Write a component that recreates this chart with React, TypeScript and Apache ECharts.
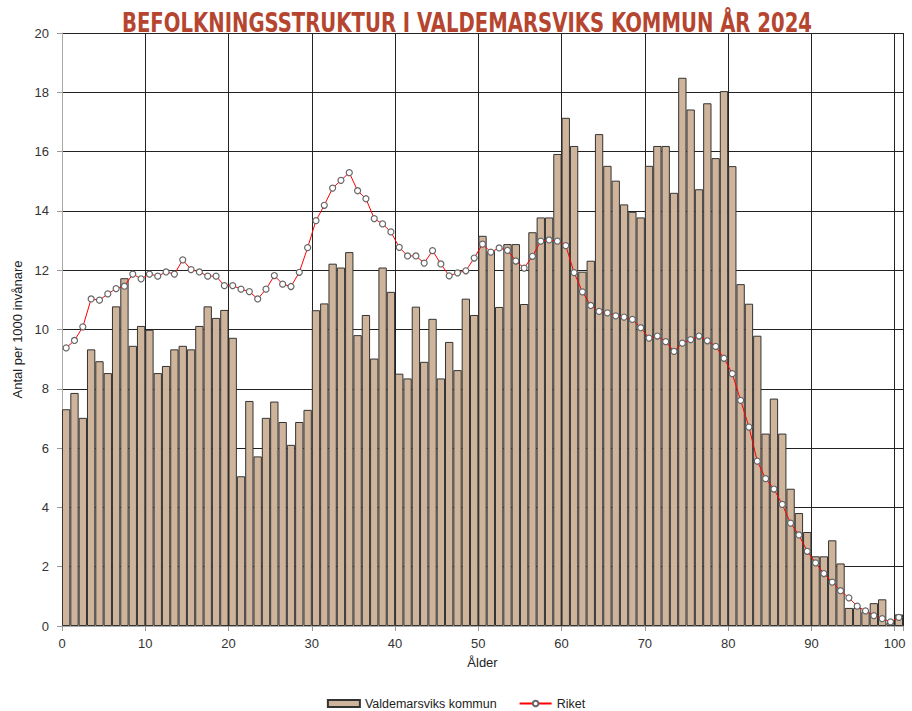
import React, { useEffect, useRef } from "react";
import * as echarts from "echarts";

const TITLE = "BEFOLKNINGSSTRUKTUR I VALDEMARSVIKS KOMMUN ÅR 2024";
const X_NAME = "Ålder";
const Y_NAME = "Antal per 1000 invånare";
const SERIES_BAR = "Valdemarsviks kommun";
const SERIES_LINE = "Riket";

const ages: string[] = Array.from({ length: 101 }, (_, i) => String(i));

const kommun: number[] = [
  7.31, 7.86, 7.02, 9.33, 8.93, 8.53, 10.78, 11.73, 9.45, 10.12,
  9.99, 8.53, 8.77, 9.33, 9.45, 9.33, 10.12, 10.78, 10.39, 10.66,
  9.72, 5.05, 7.59, 5.72, 7.02, 7.57, 6.88, 6.11, 6.88, 7.29,
  10.65, 10.88, 12.22, 12.09, 12.61, 9.81, 10.49, 9.02, 12.09, 11.27,
  8.51, 8.35, 10.77, 8.91, 10.36, 8.35, 9.58, 8.63, 11.04, 10.49,
  13.16, 12.65, 10.76, 12.88, 12.88, 10.86, 13.28, 13.78, 13.78, 15.92,
  17.14, 16.19, 11.95, 12.32, 16.59, 15.52, 15.02, 14.22, 13.97, 13.78,
  15.52, 16.19, 16.19, 14.61, 18.49, 17.42, 14.73, 17.63, 15.78, 18.04,
  15.51, 11.53, 10.87, 9.79, 6.49, 7.67, 6.49, 4.63, 3.81, 3.17,
  2.35, 2.35, 2.89, 2.11, 0.61, 0.61, 0.47, 0.77, 0.9, 0.1, 0.39,
];

const riket: number[] = [
  9.38, 9.63, 10.09, 11.03, 10.99, 11.2, 11.38, 11.46, 11.87, 11.71,
  11.87, 11.8, 11.94, 11.87, 12.35, 12.02, 11.94, 11.8, 11.8, 11.48,
  11.48, 11.36, 11.28, 11.03, 11.36, 11.82, 11.53, 11.45, 11.93, 12.76,
  13.67, 14.19, 14.77, 15.03, 15.29, 14.68, 14.41, 13.74, 13.56, 13.29,
  12.77, 12.48, 12.48, 12.24, 12.66, 12.21, 11.81, 11.91, 11.98, 12.41,
  12.88, 12.61, 12.75, 12.67, 12.31, 12.07, 12.47, 12.98, 13.02, 12.98,
  12.83, 11.92, 11.27, 10.81, 10.61, 10.56, 10.46, 10.42, 10.34, 10.06,
  9.71, 9.78, 9.59, 9.26, 9.54, 9.66, 9.78, 9.62, 9.43, 9.03,
  8.51, 7.61, 6.71, 5.56, 4.97, 4.62, 4.1, 3.47, 3.07, 2.52,
  2.13, 1.77, 1.48, 1.19, 0.95, 0.67, 0.51, 0.35, 0.25, 0.14, 0.29,
];

const FONT = "'Liberation Sans', 'DejaVu Sans', sans-serif";
const TITLE_FONT = "bold 27px 'DejaVu Sans Condensed', 'DejaVu Sans', sans-serif";

function titleScale(): number {
  try {
    const ctx = document.createElement("canvas").getContext("2d");
    if (!ctx) return 0.82;
    ctx.font = TITLE_FONT;
    const w = ctx.measureText(TITLE).width;
    return w > 0 ? 690 / w : 0.82;
  } catch (e) {
    return 0.82;
  }
}

export default function App() {
  const ref = useRef<HTMLDivElement>(null);

  useEffect(() => {
    document.body.style.margin = "0";
    if (!ref.current) return;
    const chart = echarts.init(ref.current, undefined, { renderer: "svg" });
    const s = titleScale();
    chart.setOption({
      animation: false,
      backgroundColor: "#ffffff",
      graphic: [
        {
          type: "text",
          x: 467,
          y: 23,
          scaleX: s,
          style: {
            text: TITLE,
            font: TITLE_FONT,
            fill: "#B5452F",
            textAlign: "center",
            textVerticalAlign: "middle",
          },
        },
      ],
      grid: { left: 62, right: 9, top: 33, bottom: 85 },
      legend: {
        top: 697,
        left: "center",
        padding: 0,
        itemWidth: 32,
        itemHeight: 7,
        itemGap: 22,
        textStyle: { fontFamily: FONT, fontSize: 12.5, color: "#222" },
        data: [
          { name: SERIES_BAR, icon: "rect" },
          { name: SERIES_LINE },
        ],
      },
      xAxis: [
        {
          type: "category",
          data: ages,
          show: false,
          position: "top",
          boundaryGap: true,
        },
        {
          type: "value",
          min: 0,
          max: 101,
          interval: 10,
          position: "bottom",
          name: X_NAME,
          nameLocation: "middle",
          nameGap: 30,
          nameTextStyle: { fontFamily: FONT, fontSize: 13, color: "#222" },
          axisLine: { show: true, lineStyle: { color: "#aaaaaa", width: 1 } },
          axisTick: { show: true, length: 5, lineStyle: { color: "#999999" } },
          axisLabel: {
            fontFamily: FONT,
            fontSize: 13,
            color: "#333",
            margin: 11,
            formatter: (v: number) => (v % 10 === 0 && v <= 100 ? String(v) : ""),
          },
          splitLine: {
            show: true,
            showMinLine: false,
            lineStyle: { color: "#222222", width: 1 },
          },
        },
      ],
      yAxis: {
        type: "value",
        min: 0,
        max: 20,
        interval: 2,
        name: Y_NAME,
        nameLocation: "middle",
        nameGap: 36,
        nameTextStyle: { fontFamily: FONT, fontSize: 13, color: "#222" },
        axisLine: { show: true, lineStyle: { color: "#aaaaaa", width: 1 } },
        axisTick: { show: true, length: 5, lineStyle: { color: "#999999" } },
        axisLabel: { fontFamily: FONT, fontSize: 13, color: "#333", margin: 13 },
        splitLine: {
          show: true,
          showMinLine: false,
          lineStyle: { color: "#222222", width: 1 },
        },
      },
      series: [
        {
          type: "bar",
          name: SERIES_BAR,
          xAxisIndex: 0,
          data: kommun,
          barCategoryGap: "0%",
          itemStyle: { color: "#CFB49C", borderColor: "#333333", borderWidth: 1 },
        },
        {
          type: "line",
          name: SERIES_LINE,
          xAxisIndex: 0,
          data: riket,
          symbol: "circle",
          symbolSize: 6,
          showSymbol: true,
          showAllSymbol: true,
          lineStyle: { color: "#ff0000", width: 1 },
          itemStyle: { color: "#ffffff", borderColor: "#666666", borderWidth: 1.2 },
        },
      ],
    });
    return () => chart.dispose();
  }, []);

  return <div ref={ref} style={{ width: 912, height: 711 }} />;
}
